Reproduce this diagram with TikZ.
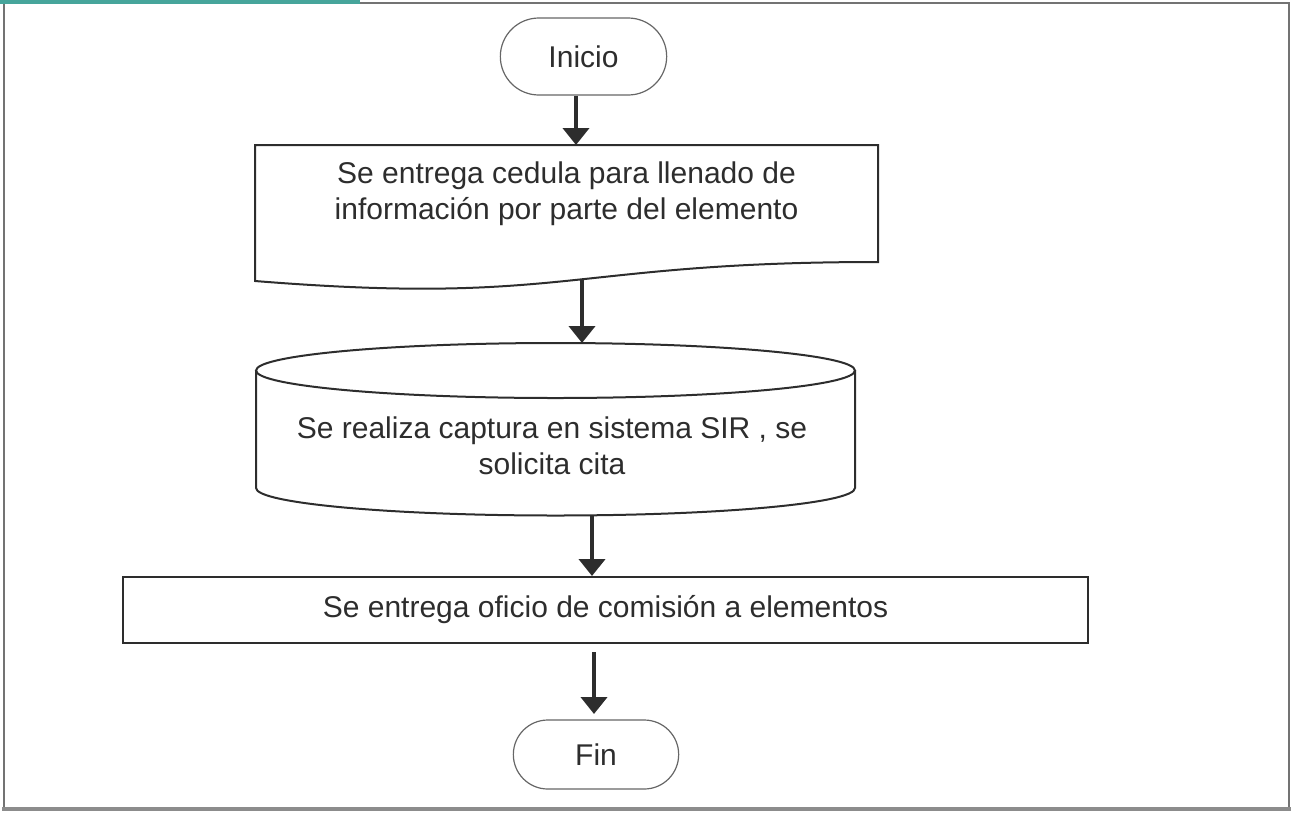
\documentclass[tikz,border=0pt]{standalone}
\usepackage{fontspec}
\setmainfont{Liberation Sans}
\usetikzlibrary{arrows.meta,shapes.misc}
\definecolor{ink}{RGB}{45,45,45}
\definecolor{bar}{RGB}{70,165,155}
\begin{document}
\begin{tikzpicture}[x=1pt,y=-1pt,
  shapeline/.style={draw=ink, line width=2pt},
  term/.style={rounded rectangle, draw=black!60, line width=1.2pt, minimum width=173pt, minimum height=77pt, font=\fontsize{30}{36}\selectfont, text=ink},
  lbl/.style={font=\fontsize{30}{36}\selectfont, align=center, text=ink},
  arr/.style={draw=ink, line width=4pt, -{Triangle[width=26pt,length=17pt]}}]
\useasboundingbox (0,0) rectangle (1292,812);
% frame
\draw[black!55, line width=1.5pt] (4,3) rectangle (1289,808);
\draw[black!45, line width=4pt] (2,809) -- (1291,809);
\fill[bar] (0,0) rectangle (360,3.5);
% Inicio
\node[term] (inicio) at (583.5,56.5) {Inicio};
% document shape
\draw[shapeline] (255,145) -- (878,145) -- (878,262) .. controls (566.5,262) and (566.5,306) .. (255,281) -- cycle;
\node[lbl] (doc) at (566.5,194) {Se entrega cedula para llenado de\\informaci\'on por parte del elemento};
\coordinate (docN) at (576,145);
\coordinate (docS) at (582,280);
% cylinder
\draw[shapeline] (555.5,370.5) ellipse [x radius=299.5pt, y radius=27.5pt];
\draw[shapeline] (256,370.5) -- (256,488) arc[start angle=180, end angle=360, x radius=299.5pt, y radius=27.5pt] -- (855,370.5);
\node[lbl] (cyl) at (552,446) {Se realiza captura en sistema SIR , se\\solicita cita};
\coordinate (cylN) at (582,343);
\coordinate (cylS) at (592,516);
% rectangle
\node[shapeline, rectangle, minimum width=965pt, minimum height=66pt, lbl] (ofi) at (605.5,610) {Se entrega oficio de comisi\'on a elementos};
\coordinate (a4s) at (594,652);
\coordinate (a4e) at (594,714);
% Fin
\node[term, minimum width=172pt, minimum height=69pt] (fin) at (596,754.5) {Fin};
% arrows
\draw[arr] (inicio.south -| docN) -- (docN);
\draw[arr] (docS) -- (cylN);
\draw[arr] (cylS) -- (ofi.north -| cylS);
\draw[arr] (a4s) -- (a4e);
\end{tikzpicture}
\end{document}
